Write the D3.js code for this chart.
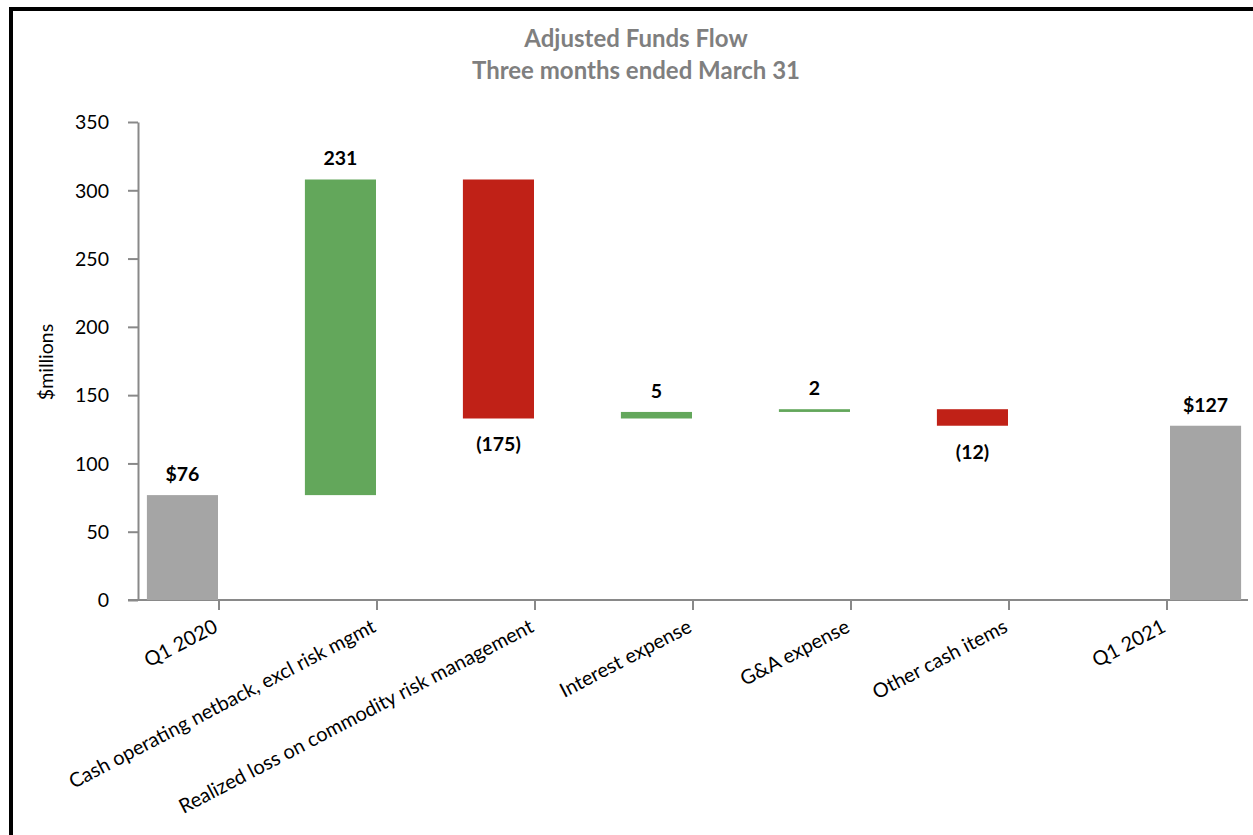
<!DOCTYPE html>
<html>
	<head>
		<meta charset="utf-8" />
		<title>Adjusted Funds Flow</title>
		<script src="https://cdn.jsdelivr.net/npm/d3@7"></script>
		<style>
			body {
				margin: 0;
				background: #fff;
				font-family: 'Lato', 'Open Sans', sans-serif;
			}

			.title {
				fill: #7f7f7f;
				font-weight: bold;
				font-size: 24px;
			}

			.axis path,
			.axis line {
				stroke: #898989;
				stroke-width: 2px;
			}

			.axis text {
				fill: #000;
				font-size: 19.5px;
				font-family: 'Lato', 'Open Sans', sans-serif;
			}

			.xlabels text {
				font-size: 20px;
			}

			.value {
				font-weight: bold;
				font-size: 19.5px;
				fill: #000;
			}
		</style>
	</head>

	<body>
		<svg id="chart"></svg>

		<script>
			const categories = [
				'Q1 2020',
				'Cash operating netback, excl risk mgmt',
				'Realized loss on commodity risk management',
				'Interest expense',
				'G&A expense',
				'Other cash items',
				'Q1 2021',
			];
			// bar heights (labels below are the rounded figures shown)
			const values = [76.8, 231.1, -175.0, 4.8, 2.0, -12.1, 127.6];
			const kinds = ['total', 'delta', 'delta', 'delta', 'delta', 'delta', 'total'];
			const valueLabels = ['$76', '231', '(175)', '5', '2', '(12)', '$127'];
			const yTicks = [0, 50, 100, 150, 200, 250, 300, 350];

			const width = 1253;
			const height = 835;

			const colors = {
				total: '#a5a5a5',
				up: '#63a75b',
				down: '#c02117',
			};

			// running totals for the waterfall
			let running = 0;
			const bars = categories.map((c, i) => {
				let lo, hi;
				if (kinds[i] === 'total') {
					lo = 0;
					hi = values[i];
					running = values[i];
				} else {
					const start = running;
					running += values[i];
					lo = Math.min(start, running);
					hi = Math.max(start, running);
				}
				return { cat: c, i, lo, hi, value: values[i], kind: kinds[i], label: valueLabels[i] };
			});

			const svg = d3.select('#chart').attr('width', width).attr('height', height);

			// frame
			svg.append('rect')
				.attr('x', 11)
				.attr('y', 9)
				.attr('width', width + 20)
				.attr('height', height + 20)
				.attr('fill', '#fff')
				.attr('stroke', '#000')
				.attr('stroke-width', 4);

			const x = d3.scaleBand().domain(categories).range([140, 1246]).padding(0);
			const y = d3.scaleLinear().domain([0, 350]).range([600, 122]);

			const barW = x.bandwidth() * 0.45;
			const center = (c) => x(c) + x.bandwidth() / 2;
			const barX = (d) => (d.i === categories.length - 1 ? center(d.cat) + 3 : center(d.cat) - barW - 1);

			// title
			svg.append('text')
				.attr('class', 'title')
				.attr('x', 636)
				.attr('y', 47)
				.attr('text-anchor', 'middle')
				.text('Adjusted Funds Flow');
			svg.append('text')
				.attr('class', 'title')
				.attr('x', 636)
				.attr('y', 79)
				.attr('text-anchor', 'middle')
				.text('Three months ended March 31');

			// y axis
			const yAxis = svg.append('g')
				.attr('class', 'axis')
				.attr('transform', 'translate(138,0)')
				.call(d3.axisLeft(y).tickValues(yTicks).tickSize(10).tickSizeOuter(0).tickPadding(19));
			yAxis.selectAll('text').attr('dy', '0.35em');

			svg.append('text')
				.attr('transform', 'translate(53,362) rotate(-90)')
				.attr('text-anchor', 'middle')
				.style('font-size', '19.5px')
				.text('$millions');

			// x axis
			const xAxis = svg.append('g')
				.attr('class', 'axis xlabels')
				.attr('transform', 'translate(0,600)')
				.call(d3.axisBottom(x).tickSize(10).tickSizeOuter(0));
			xAxis.select('.domain').attr('d', 'M128,0H1248');
			xAxis.selectAll('text')
				.attr('x', 0)
				.attr('y', 0)
				.attr('dy', 0)
				.attr('transform', 'translate(0,31) rotate(-27.5)')
				.style('text-anchor', 'end');

			// bars
			svg.append('g')
				.selectAll('rect')
				.data(bars)
				.join('rect')
				.attr('x', barX)
				.attr('width', barW)
				.attr('y', (d) => y(d.hi))
				.attr('height', (d) => Math.max(1.5, y(d.lo) - y(d.hi)))
				.attr('fill', (d) => (d.kind === 'total' ? colors.total : d.value >= 0 ? colors.up : colors.down));

			// value labels
			svg.append('g')
				.selectAll('text')
				.data(bars)
				.join('text')
				.attr('class', 'value')
				.attr('text-anchor', 'middle')
				.attr('x', (d) => barX(d) + barW / 2)
				.attr('y', (d) => (d.value < 0 ? y(d.lo) + 33 : y(d.hi) - 14))
				.text((d) => d.label);
		</script>
	</body>
</html>
